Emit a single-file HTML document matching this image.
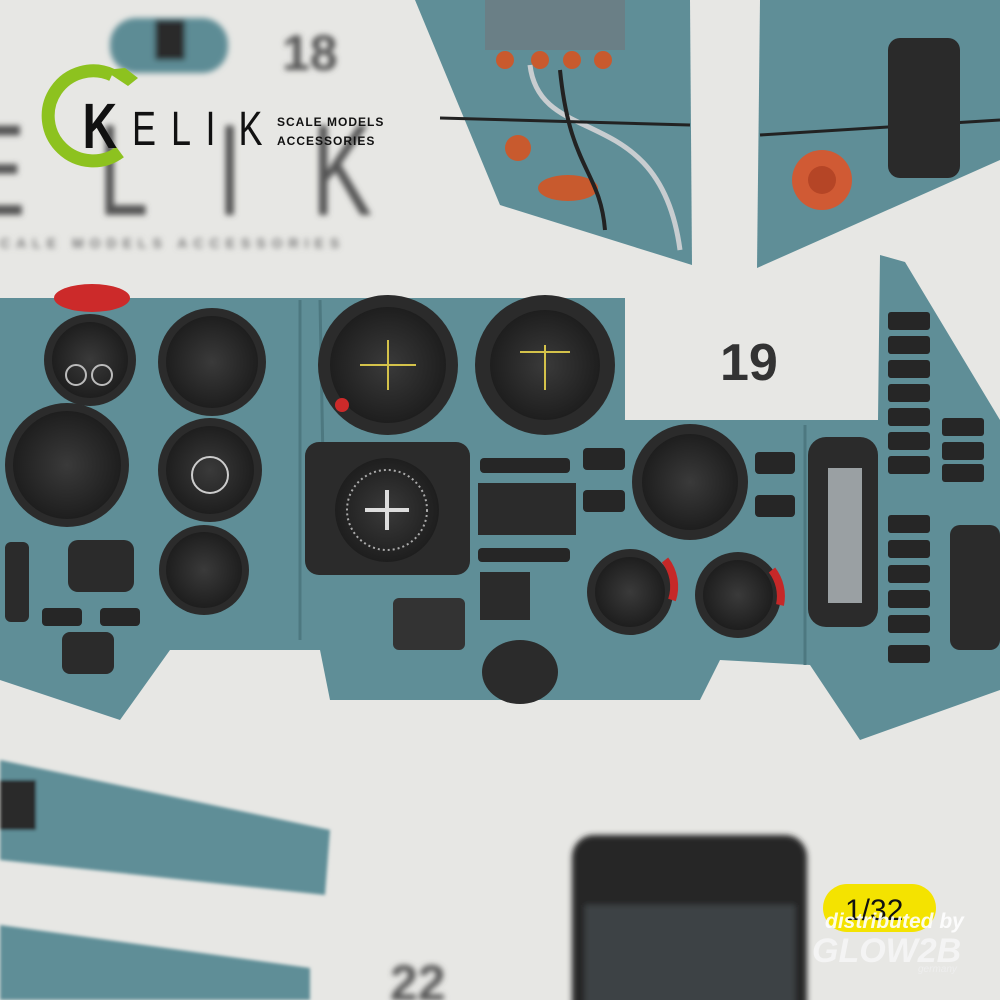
<!DOCTYPE html>
<html><head><meta charset="utf-8"><style>
html,body{margin:0;padding:0;width:1000px;height:1000px;overflow:hidden;background:#e6e6e3}
svg{display:block}
text{font-family:"Liberation Sans",sans-serif}
</style></head><body>
<svg width="1000" height="1000" viewBox="0 0 1000 1000" xmlns="http://www.w3.org/2000/svg">
<defs>
<filter id="bl"><feGaussianBlur stdDeviation="3"/></filter>
<filter id="bl2"><feGaussianBlur stdDeviation="1.5"/></filter>
<radialGradient id="g" cx="50%" cy="50%" r="50%"><stop offset="0" stop-color="#3a3a3a"/><stop offset="1" stop-color="#1e1e1e"/></radialGradient>
</defs>
<rect width="1000" height="1000" fill="#e7e7e4"/>
<!-- background blurred text -->
<g filter="url(#bl)" fill="#4a4a4a">
<text x="-50" y="215" font-size="130" transform="scale(0.7,1)" fill="#555">E</text>
<text x="140" y="215" font-size="130" transform="scale(0.7,1)" fill="#555">L</text>
<text x="310" y="215" font-size="130" transform="scale(0.7,1)" fill="#555">I</text>
<text x="445" y="215" font-size="130" transform="scale(0.7,1)" fill="#555">K</text>
<text x="0" y="248" font-size="14" font-weight="bold" letter-spacing="6" fill="#777">CALE MODELS ACCESSORIES</text>
<text x="282" y="70" font-size="50" font-weight="bold" fill="#555">18</text>
<rect x="110" y="18" width="118" height="55" rx="26" fill="#5d8c95"/>
<rect x="155" y="20" width="30" height="40" fill="#2a2a2a"/>
</g>
<!-- logo -->
<path d="M112 75 A45 45 0 1 0 120 152" fill="none" stroke="#8dc21f" stroke-width="13"/>
<path d="M104 70 L125 68 L138 78 L128 86 Z" fill="#8dc21f"/>
<g transform="scale(0.75,1)">
<text x="110" y="148" font-size="64" font-weight="bold" fill="#111">K</text>
<text x="176" y="145" font-size="48" fill="#111">E</text>
<text x="228" y="145" font-size="48" fill="#111">L</text>
<text x="274" y="145" font-size="48" fill="#111">I</text>
<text x="318" y="145" font-size="48" fill="#111">K</text>
</g>
<text x="277" y="126" font-size="12" font-weight="bold" fill="#111" letter-spacing="1">SCALE MODELS</text>
<text x="277" y="145" font-size="12" font-weight="bold" fill="#111" letter-spacing="1">ACCESSORIES</text>
<!-- top pieces -->
<polygon points="415,0 690,0 692,265 500,205" fill="#5f8e97"/>
<rect x="485" y="0" width="140" height="50" fill="#6a7f86"/>
<g fill="#c85a2e"><circle cx="505" cy="60" r="9"/><circle cx="540" cy="60" r="9"/><circle cx="572" cy="60" r="9"/><circle cx="603" cy="60" r="9"/><circle cx="518" cy="148" r="13"/><ellipse cx="568" cy="188" rx="30" ry="13"/></g>
<path d="M530 65 C540 150 660 100 680 250" stroke="#c8cdd0" stroke-width="5" fill="none"/>
<path d="M560 70 C570 170 600 170 605 230" stroke="#222" stroke-width="4" fill="none"/>
<path d="M440 118 L690 125" stroke="#222" stroke-width="3" fill="none"/>
<polygon points="760,0 1000,0 1000,160 757,268" fill="#5f8e97"/>
<path d="M760 135 L1000 120" stroke="#222" stroke-width="3"/>
<rect x="888" y="38" width="72" height="140" rx="12" fill="#2a2a2a"/>
<circle cx="822" cy="180" r="30" fill="#d05a34"/><circle cx="822" cy="180" r="14" fill="#b54526"/>
<text x="720" y="380" font-size="52" font-weight="bold" fill="#333">19</text>
<!-- main panel -->
<path d="M0 298 L625 298 L625 420 L878 420 L880 255 L905 262 L1000 420 L1000 690 L860 740 L810 665 L720 660 L700 700 L330 700 L320 650 L170 650 L120 720 L0 680 Z" fill="#5f8e97"/>
<path d="M300 300 L300 640 M320 300 L325 570 M805 425 L805 665" stroke="#4d7880" stroke-width="3"/>
<g>
<circle cx="90" cy="360" r="46" fill="#2b2b2b"/><circle cx="90" cy="360" r="38" fill="url(#g)"/>
<circle cx="212" cy="362" r="54" fill="#2b2b2b"/><circle cx="212" cy="362" r="46" fill="url(#g)"/>
<circle cx="388" cy="365" r="70" fill="#2b2b2b"/><circle cx="388" cy="365" r="58" fill="url(#g)"/>
<circle cx="545" cy="365" r="70" fill="#2b2b2b"/><circle cx="545" cy="365" r="55" fill="url(#g)"/>
<circle cx="67" cy="465" r="62" fill="#2b2b2b"/><circle cx="67" cy="465" r="54" fill="url(#g)"/>
<circle cx="210" cy="470" r="52" fill="#2b2b2b"/><circle cx="210" cy="470" r="44" fill="url(#g)"/>
<circle cx="690" cy="482" r="58" fill="#2b2b2b"/><circle cx="690" cy="482" r="48" fill="url(#g)"/>
<circle cx="204" cy="570" r="45" fill="#2b2b2b"/><circle cx="204" cy="570" r="38" fill="url(#g)"/>
<circle cx="630" cy="592" r="43" fill="#2b2b2b"/><circle cx="630" cy="592" r="35" fill="url(#g)"/>
<circle cx="738" cy="595" r="43" fill="#2b2b2b"/><circle cx="738" cy="595" r="35" fill="url(#g)"/>
<ellipse cx="520" cy="672" rx="38" ry="32" fill="#2b2b2b"/>
<rect x="305" y="442" width="165" height="133" rx="14" fill="#2b2b2b"/><circle cx="387" cy="510" r="52" fill="url(#g)"/>
<rect x="808" y="437" width="70" height="190" rx="18" fill="#2b2b2b"/><rect x="828" y="468" width="34" height="135" fill="#9aa0a3"/>
<rect x="68" y="540" width="66" height="52" rx="10" fill="#2b2b2b"/>
<rect x="393" y="598" width="72" height="52" rx="6" fill="#333"/>
<rect x="478" y="483" width="98" height="52" fill="#2b2b2b"/>
<rect x="480" y="572" width="50" height="48" fill="#2b2b2b"/>
<rect x="950" y="525" width="50" height="125" rx="10" fill="#2b2b2b"/>
<rect x="62" y="632" width="52" height="42" rx="8" fill="#2b2b2b"/>
<rect x="5" y="542" width="24" height="80" rx="6" fill="#2b2b2b"/>
</g>
<g fill="#262626">
<rect x="888" y="312" width="42" height="18" rx="3"/><rect x="888" y="336" width="42" height="18" rx="3"/><rect x="888" y="360" width="42" height="18" rx="3"/><rect x="888" y="384" width="42" height="18" rx="3"/><rect x="888" y="408" width="42" height="18" rx="3"/><rect x="888" y="432" width="42" height="18" rx="3"/><rect x="888" y="456" width="42" height="18" rx="3"/>
<rect x="942" y="418" width="42" height="18" rx="3"/><rect x="942" y="442" width="42" height="18" rx="3"/><rect x="942" y="464" width="42" height="18" rx="3"/>
<rect x="888" y="515" width="42" height="18" rx="3"/><rect x="888" y="540" width="42" height="18" rx="3"/><rect x="888" y="565" width="42" height="18" rx="3"/><rect x="888" y="590" width="42" height="18" rx="3"/><rect x="888" y="615" width="42" height="18" rx="3"/><rect x="888" y="645" width="42" height="18" rx="3"/>
<rect x="583" y="448" width="42" height="22" rx="4"/><rect x="583" y="490" width="42" height="22" rx="4"/><rect x="755" y="452" width="40" height="22" rx="4"/><rect x="755" y="495" width="40" height="22" rx="4"/>
<rect x="480" y="458" width="90" height="15" rx="4"/><rect x="478" y="548" width="92" height="14" rx="4"/>
<rect x="42" y="608" width="40" height="18" rx="4"/><rect x="100" y="608" width="40" height="18" rx="4"/>
</g>
<ellipse cx="92" cy="298" rx="38" ry="14" fill="#cc2a2a"/>
<circle cx="342" cy="405" r="7" fill="#cc2a2a"/>
<path d="M665 560 A43 43 0 0 1 672 600" stroke="#c62828" stroke-width="8" fill="none"/>
<path d="M772 570 A43 43 0 0 1 780 605" stroke="#c62828" stroke-width="8" fill="none"/>
<g stroke="#e8e8c8" stroke-width="2" fill="none">
<line x1="360" y1="365" x2="416" y2="365" stroke="#d4c24a"/><line x1="388" y1="340" x2="388" y2="390" stroke="#d4c24a"/>
<line x1="520" y1="352" x2="570" y2="352" stroke="#d4c24a"/><line x1="545" y1="345" x2="545" y2="390" stroke="#d4c24a"/>
<circle cx="387" cy="510" r="40" stroke="#aaa" stroke-dasharray="2 3"/>
<path d="M365 510 H409 M387 490 V530" stroke="#ddd" stroke-width="4"/>
<circle cx="210" cy="475" r="18" stroke="#ccc"/>
<circle cx="76" cy="375" r="10" stroke="#bbb"/><circle cx="102" cy="375" r="10" stroke="#bbb"/>
</g>
<!-- lower pieces -->
<g filter="url(#bl2)">
<polygon points="0,760 330,830 325,895 0,860" fill="#5f8e97"/>
<rect x="0" y="780" width="36" height="50" fill="#2a2a2a"/>
<polygon points="0,925 310,968 310,1000 0,1000" fill="#5f8e97"/>
</g>
<g filter="url(#bl)">
<rect x="572" y="835" width="235" height="190" rx="22" fill="#252525"/>
<rect x="585" y="905" width="210" height="100" fill="#3c4244"/>
<text x="390" y="1000" font-size="50" font-weight="bold" fill="#555">22</text>
</g>
<rect x="823" y="884" width="113" height="48" rx="24" fill="#f4e300"/>
<text x="845" y="920" font-size="30" fill="#111">1/32</text>
<text x="825" y="928" font-size="21" font-style="italic" font-weight="bold" fill="#fff" opacity="0.9">distributed by</text>
<text x="812" y="962" font-size="34" font-style="italic" font-weight="bold" fill="#f4f4f4">GLOW2B</text>
<text x="918" y="972" font-size="10" font-style="italic" fill="#eee">germany</text>
</svg>
</body></html>
